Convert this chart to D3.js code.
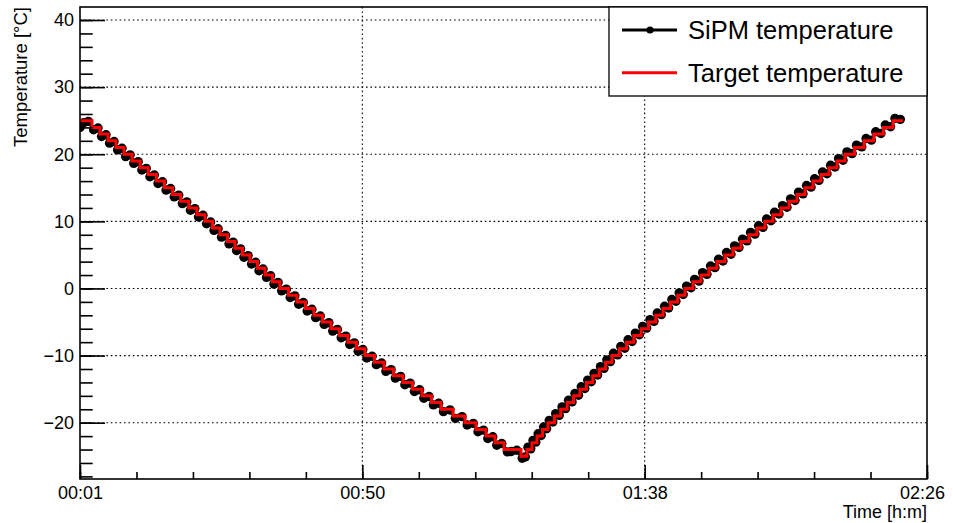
<!DOCTYPE html>
<html>
<head>
<meta charset="utf-8">
<script src="https://cdn.jsdelivr.net/npm/d3@7"></script>
<style>
  html, body { margin: 0; padding: 0; background: #fff; }
  svg { display: block; font-family: "Liberation Sans", Arial, Helvetica, sans-serif; }
</style>
</head>
<body>
<svg id="chart" width="953" height="523"></svg>
<script>
// Times are minutes since 00:00, temperatures in °C.

// Set-point of the thermal cycle: start time of each 1 °C plateau (last entry = end of run)
const targetTime = [
  1.67, 3.72, 5.09, 6.46, 7.83, 9.20, 10.59, 11.97, 13.36, 14.75, 16.13, 17.52, 18.91, 20.29, 21.68,
  23.07, 24.35, 25.63, 26.92, 28.20, 29.48, 30.77, 32.05, 33.34, 34.62, 35.90, 37.36, 38.81, 40.27,
  41.72, 43.18, 44.64, 46.09, 47.55, 49.00, 50.46, 52.08, 53.71, 55.33, 56.96, 58.59, 60.21, 61.84,
  63.47, 65.52, 67.57, 69.46, 71.17, 72.71, 74.25, 77.16,
  78.19, 79.04, 79.90, 80.84, 81.78, 82.88, 83.97, 85.07, 86.17, 87.26, 88.36, 89.45, 90.55, 91.64,
  92.74, 93.99, 95.24, 96.49, 97.74, 98.99, 100.24, 101.49, 102.74, 103.99, 105.24, 106.61, 107.98,
  109.34, 110.71, 112.08, 113.45, 114.82, 116.19, 117.56, 118.93, 120.30, 121.67, 123.04, 124.41,
  125.78, 127.15, 128.52, 129.89, 131.26, 132.63, 134.27, 135.91, 137.56, 139.20, 140.84, 142.56
];
const targetTemp = [
  25, 24, 23, 22, 21, 20, 19, 18, 17, 16, 15, 14, 13, 12, 11,
  10, 9, 8, 7, 6, 5, 4, 3, 2, 1, 0, -1, -2, -3,
  -4, -5, -6, -7, -8, -9, -10, -11, -12, -13, -14, -15, -16, -17,
  -18, -19, -20, -21, -22, -23, -24, -25,
  -24, -23, -22, -21, -20, -19, -18, -17, -16, -15, -14, -13, -12, -11,
  -10, -9, -8, -7, -6, -5, -4, -3, -2, -1, 0, 1, 2,
  3, 4, 5, 6, 7, 8, 9, 10, 11, 12, 13, 14,
  15, 16, 17, 18, 19, 20, 21, 22, 23, 24, 25, 25
];

// Measured SiPM temperature readings
const sipmTime = [
  1.67, 2.30, 3.10,
  3.99, 4.75, 5.36, 6.12, 6.73, 7.49, 8.10, 8.86, 9.48, 10.24, 10.87, 11.63, 12.25, 13.01,
  13.64, 14.40, 15.03, 15.79, 16.41, 17.17, 17.80, 18.56, 19.19, 19.95, 20.57, 21.33, 21.96, 22.72,
  23.33, 24.03, 24.61, 25.31, 25.89, 26.59, 27.18, 27.88, 28.46, 29.16, 29.74, 30.44, 31.03, 31.73,
  32.31, 33.01, 33.60, 34.30, 34.88, 35.58, 36.19, 36.99, 37.65, 38.45, 39.10, 39.90, 40.56, 41.36,
  42.01, 42.81, 43.47, 44.27, 44.93, 45.73, 46.38, 47.18, 47.84, 48.64, 49.29, 50.09, 50.78, 51.68,
  52.40, 53.30, 54.03, 54.93, 55.65, 56.55, 57.28, 58.18, 58.91, 59.81, 60.53, 61.43, 62.16, 63.06,
  63.88, 65.01, 65.93, 67.06, 67.95, 69.00, 69.80, 70.74, 71.48, 72.33, 73.02, 73.87,
  74.83, 75.50, 76.45, 77.37, 77.90,
  78.36, 78.83, 79.21, 79.69, 80.09, 80.61, 81.03, 81.55, 82.00, 82.61, 83.10, 83.71, 84.19, 84.80,
  85.29, 85.90, 86.39, 87.00, 87.48, 88.09, 88.58, 89.19, 89.67, 90.28, 90.77, 91.38, 91.86, 92.47,
  92.99, 93.68, 94.24, 94.93, 95.49, 96.18, 96.74, 97.43, 97.99, 98.68, 99.24, 99.93, 100.49, 101.18,
  101.74, 102.43, 102.99, 103.68, 104.24, 104.93, 105.51, 106.27, 106.88, 107.64, 108.25, 109.00,
  109.61, 110.37, 110.98, 111.74, 112.35, 113.11, 113.72, 114.48, 115.09, 115.85, 116.46, 117.22,
  117.83, 118.59, 119.20, 119.96, 120.57, 121.33, 121.94, 122.70, 123.31, 124.07, 124.68, 125.44,
  126.05, 126.81, 127.42, 128.18, 128.79, 129.55, 130.16, 130.92, 131.53, 132.29, 132.96, 133.86,
  134.60, 135.50, 136.24, 137.15, 137.89, 138.79, 139.53, 140.43, 141.18, 142.10
];
const sipmTemp = [
  24.0, 24.7, 24.9,
  23.65, 23.9, 22.65, 22.9, 21.65, 21.9, 20.65, 20.9, 19.65, 19.9, 18.65, 18.9, 17.65, 17.9,
  16.65, 16.9, 15.65, 15.9, 14.65, 14.9, 13.65, 13.9, 12.65, 12.9, 11.65, 11.9, 10.65, 10.9,
  9.65, 9.9, 8.65, 8.9, 7.65, 7.9, 6.65, 6.9, 5.65, 5.9, 4.65, 4.9, 3.65, 3.9,
  2.65, 2.9, 1.65, 1.9, 0.65, 0.9, -0.35, -0.1, -1.35, -1.1, -2.35, -2.1, -3.35, -3.1,
  -4.35, -4.1, -5.35, -5.1, -6.35, -6.1, -7.35, -7.1, -8.35, -8.1, -9.35, -9.1, -10.35, -10.1,
  -11.35, -11.1, -12.35, -12.1, -13.35, -13.1, -14.35, -14.1, -15.35, -15.1, -16.35, -16.1, -17.35, -17.1,
  -18.35, -18.1, -19.35, -19.1, -20.35, -20.1, -21.35, -21.1, -22.35, -22.1, -23.35, -23.1,
  -24.35, -24.3, -24.1, -25.3, -25.1,
  -23.65, -23.9, -22.65, -22.9, -21.65, -21.9, -20.65, -20.9, -19.65, -19.9, -18.65, -18.9, -17.65, -17.9,
  -16.65, -16.9, -15.65, -15.9, -14.65, -14.9, -13.65, -13.9, -12.65, -12.9, -11.65, -11.9, -10.65, -10.9,
  -9.65, -9.9, -8.65, -8.9, -7.65, -7.9, -6.65, -6.9, -5.65, -5.9, -4.65, -4.9, -3.65, -3.9,
  -2.65, -2.9, -1.65, -1.9, -0.65, -0.9, 0.35, 0.1, 1.35, 1.1, 2.35, 2.1,
  3.35, 3.1, 4.35, 4.1, 5.35, 5.1, 6.35, 6.1, 7.35, 7.1, 8.35, 8.1,
  9.35, 9.1, 10.35, 10.1, 11.35, 11.1, 12.35, 12.1, 13.35, 13.1, 14.35, 14.1,
  15.35, 15.1, 16.35, 16.1, 17.35, 17.1, 18.35, 18.1, 19.35, 19.1, 20.35, 20.1,
  21.35, 21.1, 22.35, 22.1, 23.35, 23.1, 24.35, 24.1, 25.35, 25.2
];

// Axis setup
const timeRange = [100 / 60, 8800 / 60];      // 00:01:40 .. 02:26:40
const tempRange = [-28.39, 41.94];
const xTickLabels = ["00:01", "00:50", "01:38", "02:26"];
const yMajorTicks = [-20, -10, 0, 10, 20, 30, 40];
const yMinorStep = 2;
const legendLabels = ["SiPM temperature", "Target temperature"];
const seriesColors = ["#000000", "#ff0000"];

const frame = { left: 80, right: 927, top: 7, bottom: 479 };

const svg = d3.select("#chart");
const x = d3.scaleLinear().domain(timeRange).range([frame.left, frame.right]);
const y = d3.scaleLinear().domain(tempRange).range([frame.bottom, frame.top]);

// Major time ticks divide the axis into three equal intervals, 5 minor intervals each
const xMajor = d3.range(xTickLabels.length).map(i => timeRange[0] + i * (timeRange[1] - timeRange[0]) / (xTickLabels.length - 1));
const xMinor = d3.range(0, 16).map(i => timeRange[0] + i * (timeRange[1] - timeRange[0]) / 15);
const yMinor = d3.range(Math.ceil(tempRange[0] / yMinorStep) * yMinorStep, tempRange[1], yMinorStep);

// Dotted grid
const grid = svg.append("g").attr("stroke", "#000").attr("stroke-width", 1.1).attr("stroke-dasharray", "1.6,2.8");
grid.selectAll("line.h").data(yMajorTicks).join("line")
  .attr("x1", frame.left).attr("x2", frame.right)
  .attr("y1", d => y(d)).attr("y2", d => y(d));
grid.selectAll("line.v").data(xMajor.slice(1, -1)).join("line")
  .attr("x1", d => x(d)).attr("x2", d => x(d))
  .attr("y1", frame.top).attr("y2", frame.bottom);

// Data layer, clipped to the frame
svg.append("clipPath").attr("id", "plotclip").append("rect")
  .attr("x", frame.left).attr("y", frame.top)
  .attr("width", frame.right - frame.left).attr("height", frame.bottom - frame.top);
const plot = svg.append("g").attr("clip-path", "url(#plotclip)");

const sipm = sipmTime.map((t, i) => [t, sipmTemp[i]]);
const target = targetTime.map((t, i) => [t, targetTemp[i]]);

plot.append("path").datum(sipm)
  .attr("fill", "none").attr("stroke", seriesColors[0]).attr("stroke-width", 3.2)
  .attr("stroke-linejoin", "round")
  .attr("d", d3.line().x(d => x(d[0])).y(d => y(d[1])));
plot.append("g").selectAll("circle").data(sipm).join("circle")
  .attr("cx", d => x(d[0])).attr("cy", d => y(d[1])).attr("r", 4.7)
  .attr("fill", seriesColors[0]);

plot.append("path").datum(target)
  .attr("fill", "none").attr("stroke", seriesColors[1]).attr("stroke-width", 3)
  .attr("d", d3.line().curve(d3.curveStepAfter).x(d => x(d[0])).y(d => y(d[1])));

// Axes (ticks drawn inward)
const yAxisMajor = d3.axisLeft(y).tickValues(yMajorTicks).tickSizeInner(-25).tickSizeOuter(0)
  .tickPadding(6).tickFormat(d => d < 0 ? "\u2212" + Math.abs(d) : String(d));
const yAxisMinor = d3.axisLeft(y).tickValues(yMinor).tickSizeInner(-12.7).tickSizeOuter(0).tickFormat("");
const xAxisMajor = d3.axisBottom(x).tickValues(xMajor).tickSizeInner(-14).tickSizeOuter(0)
  .tickPadding(7).tickFormat((d, i) => xTickLabels[i]);
const xAxisMinor = d3.axisBottom(x).tickValues(xMinor).tickSizeInner(-7).tickSizeOuter(0).tickFormat("");

function styleAxis(g) {
  g.select(".domain").remove();
  g.selectAll(".tick line").attr("stroke", "#000").attr("stroke-width", 1.6);
  g.selectAll(".tick text").attr("fill", "#000").attr("font-size", 18)
    .attr("font-family", "'Liberation Sans', Arial, Helvetica, sans-serif");
}
svg.append("g").attr("transform", `translate(${frame.left},0)`).call(yAxisMinor).call(styleAxis);
svg.append("g").attr("transform", `translate(${frame.left},0)`).call(yAxisMajor).call(styleAxis);
svg.append("g").attr("transform", `translate(0,${frame.bottom})`).call(xAxisMinor).call(styleAxis);
const xg = svg.append("g").attr("transform", `translate(0,${frame.bottom})`).call(xAxisMajor).call(styleAxis);
xg.selectAll(".tick text").attr("dx", (d, i) => i === xTickLabels.length - 1 ? -5 : 0);

// Frame
svg.append("rect")
  .attr("x", frame.left).attr("y", frame.top)
  .attr("width", frame.right - frame.left).attr("height", frame.bottom - frame.top)
  .attr("fill", "none").attr("stroke", "#000").attr("stroke-width", 1.6);

// Axis titles
svg.append("text")
  .attr("x", frame.right).attr("y", 518).attr("text-anchor", "end")
  .attr("font-size", 18).attr("fill", "#000").text("Time [h:m]");
svg.append("text")
  .attr("transform", `translate(27,${frame.top}) rotate(-90)`).attr("text-anchor", "end")
  .attr("font-size", 18.5).attr("fill", "#000").text("Temperature [°C]");

// Legend
const lg = svg.append("g");
lg.append("rect").attr("x", 609).attr("y", frame.top).attr("width", frame.right - 609).attr("height", 89)
  .attr("fill", "#fff").attr("stroke", "#000").attr("stroke-width", 1.3);
const rowY = [30, 72.7];
legendLabels.forEach((label, i) => {
  lg.append("line").attr("x1", 622).attr("x2", 677).attr("y1", rowY[i]).attr("y2", rowY[i])
    .attr("stroke", seriesColors[i]).attr("stroke-width", i === 0 ? 2.8 : 3);
  if (i === 0) lg.append("circle").attr("cx", 650).attr("cy", rowY[i]).attr("r", 3.6).attr("fill", seriesColors[i]);
  lg.append("text").attr("x", 688).attr("y", rowY[i] + 9).attr("font-size", 25.5).attr("fill", "#000").text(label);
});
</script>
</body>
</html>
